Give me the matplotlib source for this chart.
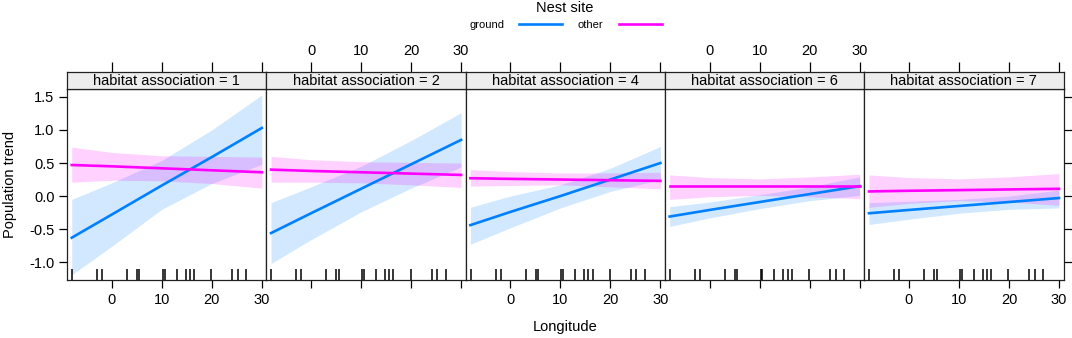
import matplotlib
matplotlib.use('Agg')
import matplotlib.pyplot as plt
from matplotlib.lines import Line2D

plt.rcParams['font.family'] = ['Liberation Sans', 'DejaVu Sans']

lon = [-8, 0, 10, 20, 30]
panels = ['habitat association = 1', 'habitat association = 2',
          'habitat association = 4', 'habitat association = 6',
          'habitat association = 7']

# Nest site = ground (fit, lower, upper) per panel
ground_fit = [[-0.63, -0.28, 0.16, 0.59, 1.03],
              [-0.56, -0.26, 0.11, 0.48, 0.85],
              [-0.44, -0.24, 0.00, 0.25, 0.50],
              [-0.31, -0.21, -0.09, 0.03, 0.15],
              [-0.26, -0.21, -0.15, -0.09, -0.03]]
ground_lo = [[-1.19, -0.76, -0.20, 0.19, 0.48],
             [-1.02, -0.66, -0.24, 0.12, 0.44],
             [-0.73, -0.48, -0.18, 0.07, 0.25],
             [-0.46, -0.33, -0.19, -0.07, 0.01],
             [-0.43, -0.35, -0.26, -0.20, -0.18]]
ground_hi = [[-0.05, 0.20, 0.54, 1.00, 1.53],
             [-0.10, 0.14, 0.45, 0.84, 1.26],
             [-0.17, 0.00, 0.17, 0.42, 0.75],
             [-0.16, -0.09, 0.02, 0.14, 0.29],
             [-0.10, -0.08, -0.05, 0.00, 0.09]]

# Nest site = other
other_fit = [[0.47, 0.45, 0.42, 0.39, 0.36],
             [0.40, 0.38, 0.36, 0.34, 0.32],
             [0.27, 0.26, 0.25, 0.24, 0.23],
             [0.15, 0.15, 0.15, 0.15, 0.15],
             [0.07, 0.08, 0.09, 0.10, 0.11]]
other_lo = [[0.21, 0.24, 0.23, 0.19, 0.12],
            [0.21, 0.21, 0.20, 0.17, 0.13],
            [0.15, 0.16, 0.17, 0.14, 0.11],
            [-0.05, -0.01, 0.01, -0.01, -0.04],
            [-0.17, -0.11, -0.07, -0.09, -0.14]]
other_hi = [[0.74, 0.66, 0.61, 0.60, 0.59],
            [0.60, 0.55, 0.52, 0.51, 0.50],
            [0.40, 0.37, 0.35, 0.35, 0.36],
            [0.32, 0.28, 0.26, 0.29, 0.33],
            [0.32, 0.28, 0.26, 0.29, 0.34]]

# Observed longitudes (rug)
rug_lon = [-7.96, -2.95, -1.95, 3.07, 5.07, 5.54, 10.2, 10.55, 12.96,
           14.76, 15.62, 16.43, 19.9, 24.1, 25.2, 26.9]

blue = '#0080ff'
pink = '#ff00ff'

W, H = 1072, 338
fig = plt.figure(figsize=(W / 100, H / 100), dpi=100)

left, right = 67, 1063.5
pw = (right - left) / 5
plot_top, plot_bot, strip_top = 89, 280, 72

for i, name in enumerate(panels):
    x0 = (left + i * pw) / W
    ax = fig.add_axes([x0, 1 - plot_bot / H, pw / W, (plot_bot - plot_top) / H])
    st = fig.add_axes([x0, 1 - plot_top / H, pw / W, (plot_top - strip_top) / H])

    ax.fill_between(lon, ground_lo[i], ground_hi[i], color=blue, alpha=0.18, lw=0)
    ax.fill_between(lon, other_lo[i], other_hi[i], color=pink, alpha=0.18, lw=0)
    ax.plot(lon, ground_fit[i], color=blue, lw=1.9)
    ax.plot(lon, other_fit[i], color=pink, lw=1.9)
    ax.vlines(rug_lon, 0, 0.055, transform=ax.get_xaxis_transform(),
              color='black', lw=1.1)

    ax.set_xlim(-8.95, 30.9)
    ax.set_ylim(-1.27, 1.62)
    ax.set_xticks([0, 10, 20, 30])
    ax.set_yticks([-1.0, -0.5, 0.0, 0.5, 1.0, 1.5])
    ax.set_yticklabels(['-1.0', '-0.5', '0.0', '0.5', '1.0', '1.5'])
    ax.tick_params(axis='both', direction='out', length=6, width=0.9,
                   labelsize=10.5, colors='black', pad=3)
    ax.tick_params(axis='x', bottom=True, top=False,
                   labelbottom=(i % 2 == 0))
    ax.tick_params(axis='y', left=(i == 0), labelleft=(i == 0),
                   right=(i == 4), labelright=False)
    for s in ax.spines.values():
        s.set_linewidth(0.9)
        s.set_color('#222222')

    st.set_facecolor('#ededed')
    st.set_xlim(-8.95, 30.9)
    st.set_ylim(0, 1)
    st.set_yticks([])
    st.set_xticks([0, 10, 20, 30])
    st.xaxis.set_ticks_position('top')
    st.tick_params(axis='x', direction='out', length=7, width=0.9,
                   labelsize=10.5, top=True, bottom=False,
                   labeltop=(i % 2 == 1), labelbottom=False, pad=3)
    for s in st.spines.values():
        s.set_linewidth(0.9)
        s.set_color('#222222')
    st.text(0.5, 0.45, name, transform=st.transAxes, ha='center',
            va='center', fontsize=10.5)

fig.text(10 / W, 1 - 184.5 / H, 'Population trend', rotation=90,
         ha='center', va='center', fontsize=10.5)
fig.text(565 / W, 1 - 327 / H, 'Longitude', ha='center', va='center',
         fontsize=10.5)

# key
fig.text(565 / W, 1 - 8 / H, 'Nest site', ha='center', va='center',
         fontsize=10.5)
fig.text(487 / W, 1 - 25 / H, 'ground', ha='center', va='center', fontsize=8)
fig.text(590 / W, 1 - 25 / H, 'other', ha='center', va='center', fontsize=8)
fig.add_artist(Line2D([519 / W, 562 / W], [1 - 24 / H, 1 - 24 / H],
                      color=blue, lw=1.9))
fig.add_artist(Line2D([619 / W, 662 / W], [1 - 24 / H, 1 - 24 / H],
                      color=pink, lw=1.9))

fig.savefig('out.png', dpi=100)
